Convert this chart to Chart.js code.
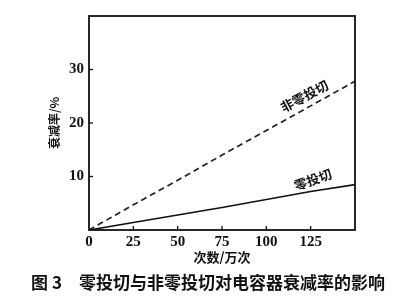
<!DOCTYPE html>
<html>
<head>
<meta charset="utf-8">
<script src="https://cdn.jsdelivr.net/npm/chart.js@4/dist/chart.umd.min.js"></script>
<style>
html,body{margin:0;padding:0;background:#fff;}
#wrap{width:416px;height:300px;}
</style>
</head>
<body>
<div id="wrap"><canvas id="c" width="416" height="300"></canvas></div>
<script>
const cycles = [0, 25, 50, 75, 100, 125, 150];
const zeroSwitching = [0, 1.4, 2.8, 4.2, 5.7, 7.2, 8.5];
const nonZeroSwitching = [0, 4.7, 9.3, 14.0, 18.6, 23.2, 27.8];
const seriesLabels = ['零投切', '非零投切'];
const xTitle = '次数/万次';
const yTitle = '衰减率/%';
const caption = '图 3\u3000零投切与非零投切对电容器衰减率的影响';
const labelAnchors = [{x: 126.3, y: 9.4, angle: -20}, {x: 121.5, y: 25.0, angle: -28}];

const tickFont = {family: '"Liberation Serif", "DejaVu Serif", serif', size: 15, weight: 'bold'};
const cjkFont = '"Noto Sans CJK SC", sans-serif';

const pts = (ys) => cycles.map((x, i) => ({x, y: ys[i]}));

const extras = {
  id: 'extras',
  afterDatasetsDraw(chart) {
    const {ctx, scales: {x, y}, chartArea: a} = chart;
    ctx.save();
    ctx.strokeStyle = '#111';
    ctx.lineWidth = 1.3;
    x.ticks.forEach(t => {
      if (t.value <= x.min || t.value >= x.max) return;
      const px = x.getPixelForValue(t.value);
      ctx.beginPath(); ctx.moveTo(px, a.bottom); ctx.lineTo(px, a.bottom - 4); ctx.stroke();
    });
    y.ticks.forEach(t => {
      if (t.value <= y.min || t.value >= y.max) return;
      const py = y.getPixelForValue(t.value);
      ctx.beginPath(); ctx.moveTo(a.left, py); ctx.lineTo(a.left + 4, py); ctx.stroke();
    });
    ctx.lineWidth = 1.8;
    ctx.strokeRect(a.left, a.top, a.right - a.left, a.bottom - a.top);
    ctx.fillStyle = '#111';
    ctx.font = 'bold 13px ' + cjkFont;
    ctx.textAlign = 'center';
    ctx.textBaseline = 'middle';
    labelAnchors.forEach((l, i) => {
      ctx.save();
      ctx.translate(x.getPixelForValue(l.x), y.getPixelForValue(l.y));
      ctx.rotate(l.angle * Math.PI / 180);
      ctx.fillText(seriesLabels[i], 0, 0);
      ctx.restore();
    });
    ctx.font = 'bold 17px ' + cjkFont;
    ctx.fillText(caption, chart.width / 2, 283);
    ctx.restore();
  }
};

new Chart(document.getElementById('c'), {
  type: 'line',
  data: {
    datasets: [
      {label: seriesLabels[0], data: pts(zeroSwitching), borderColor: '#111', borderWidth: 1.7, pointRadius: 0, tension: 0},
      {label: seriesLabels[1], data: pts(nonZeroSwitching), borderColor: '#222', borderWidth: 1.7, borderDash: [6, 4], pointRadius: 0, tension: 0}
    ]
  },
  options: {
    responsive: false,
    animation: false,
    layout: {padding: {left: 0, right: 61, top: 16, bottom: 30}},
    plugins: {legend: {display: false}, tooltip: {enabled: false}, title: {display: false}},
    scales: {
      x: {
        type: 'linear', min: 0, max: 150,
        afterFit(s) { s.height = 40; },
        border: {display: false},
        grid: {display: false, drawTicks: false},
        ticks: {stepSize: 25, color: '#111', font: tickFont, padding: 3,
          callback: v => (v >= 150 ? '' : String(v))},
        title: {display: true, text: xTitle, color: '#111', font: {family: cjkFont, size: 13, weight: 'bold'}, padding: {top: 0, bottom: 5}}
      },
      y: {
        type: 'linear', min: 0, max: 40,
        afterFit(s) { s.width = 89; },
        border: {display: false},
        grid: {display: false, drawTicks: false},
        ticks: {stepSize: 10, color: '#111', font: tickFont, padding: 5,
          callback: v => (v === 0 || v === 40 ? '' : String(v))},
        title: {display: true, text: yTitle, color: '#111', font: {family: cjkFont, size: 12, weight: 'bold'}, padding: {top: 47, bottom: 0}}
      }
    }
  },
  plugins: [extras]
});
</script>
</body>
</html>
